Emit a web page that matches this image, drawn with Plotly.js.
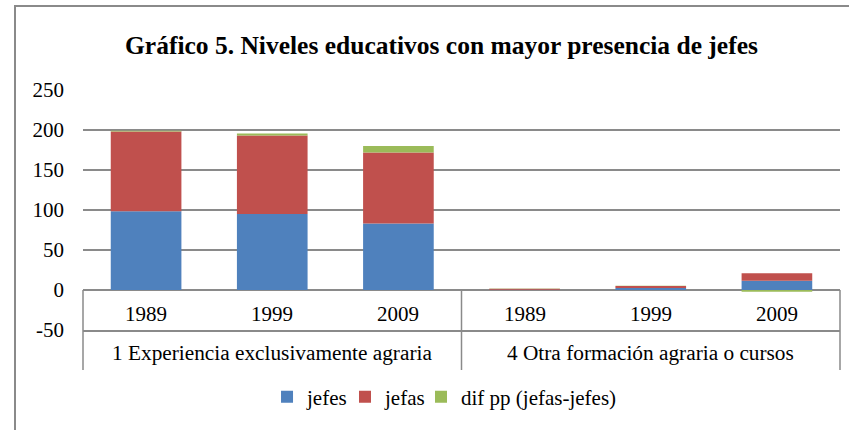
<!DOCTYPE html>
<html>
<head>
<meta charset="utf-8">
<script src="https://cdn.plot.ly/plotly-3.0.1.min.js"></script>
<style>
  html, body { margin: 0; padding: 0; background: #fff; }
  #wrap { position: relative; width: 849px; height: 430px; }
  #chart { width: 849px; height: 430px; }
  #frame { position: absolute; left: 14px; top: 5px; right: -5px; bottom: -5px;
           border-top: 2px solid #8a8a8a; border-left: 2px solid #8a8a8a; pointer-events: none; }
</style>
</head>
<body>
<div id="wrap"><div id="chart"></div><div id="frame"></div></div>
<script>
const groups = ['1 Experiencia exclusivamente agraria', '4 Otra formación agraria o cursos'];
const years = ['1989', '1999', '2009', '1989', '1999', '2009'];
const groupOf = [0, 0, 0, 1, 1, 1];
const jefes = [98.5, 95, 83, 0.3, 2.5, 11.7];
const jefas = [99.5, 98, 89, 1.3, 2.5, 9.2];
const difpp = [1, 2.5, 8, 0.3, 0.3, -2.2];
const yTicks = [-50, 0, 50, 100, 150, 200, 250];

const xIdx = years.map((_, i) => i);
const serif = 'Liberation Serif';
const gridCol = '#8a8a8a';

const mk = (name, y, color, leg) => ({
  type: 'bar', name: name, x: xIdx, y: y, legend: leg,
  marker: { color: color, line: { width: 0 } },
  width: 0.56, cliponaxis: false, hoverinfo: 'skip'
});

const data = [
  mk('jefes', jefes, '#4F81BD', 'legend'),
  mk('jefas', jefas, '#C0504D', 'legend2'),
  mk('dif pp (jefas-jefes)', difpp, '#9BBB59', 'legend3')
];

const annotations = [];
years.forEach((y, i) => annotations.push({
  x: i, y: -30, xref: 'x', yref: 'y', yanchor: 'middle', text: y, showarrow: false,
  font: { family: serif, size: 21, color: '#000' }
}));
groups.forEach((g, k) => {
  const idx = xIdx.filter(i => groupOf[i] === k);
  const c = (idx[0] + idx[idx.length - 1]) / 2;
  annotations.push({
    x: c, y: -0.096, xref: 'x', yref: 'paper', yanchor: 'middle', text: g, showarrow: false,
    font: { family: serif, size: 21.3, color: '#000' }
  });
});

const shapes = [];
[0, 0.5, 1].forEach(px => shapes.push({
  type: 'line', xref: 'paper', yref: 'paper', x0: px, x1: px, y0: 0.1667, y1: -0.1667,
  line: { color: gridCol, width: 1.5 }, layer: 'above'
}));

const legFont = { family: serif, size: 21, color: '#000' };
const leg = (x) => ({
  orientation: 'h', x: x, xanchor: 'left', y: -0.28, yanchor: 'middle',
  font: legFont, itemwidth: 30, itemclick: false, bgcolor: 'rgba(0,0,0,0)'
});

const layout = {
  width: 849, height: 430,
  margin: { l: 83, r: 9, t: 90, b: 100 },
  paper_bgcolor: '#fff', plot_bgcolor: '#fff',
  font: { family: serif, color: '#000' },
  barmode: 'relative',
  title: {
    text: '<b>Gráfico 5. Niveles educativos con mayor presencia de jefes</b>',
    font: { family: serif, size: 25.5, color: '#000' },
    x: 0.52, xanchor: 'center', y: 0.895, yanchor: 'middle'
  },
  xaxis: {
    type: 'linear', range: [-0.5, 5.5], showticklabels: false, ticks: '',
    showgrid: false, zeroline: false, showline: true, linecolor: gridCol, linewidth: 1.5,
    fixedrange: true
  },
  yaxis: {
    range: [-50, 250], tickvals: yTicks, ticktext: yTicks.map(String),
    showgrid: true, gridcolor: gridCol, gridwidth: 1.5,
    zeroline: true, zerolinecolor: gridCol, zerolinewidth: 1.5,
    showline: false, ticks: '', ticklabelstandoff: 18,
    tickfont: { family: serif, size: 21, color: '#000' }, fixedrange: true
  },
  legend: leg(0.2431),
  legend2: leg(0.3461),
  legend3: leg(0.4465),
  annotations: annotations,
  shapes: shapes,
  showlegend: true
};

Plotly.newPlot('chart', data, layout, { displayModeBar: false, staticPlot: true });
</script>
</body>
</html>
